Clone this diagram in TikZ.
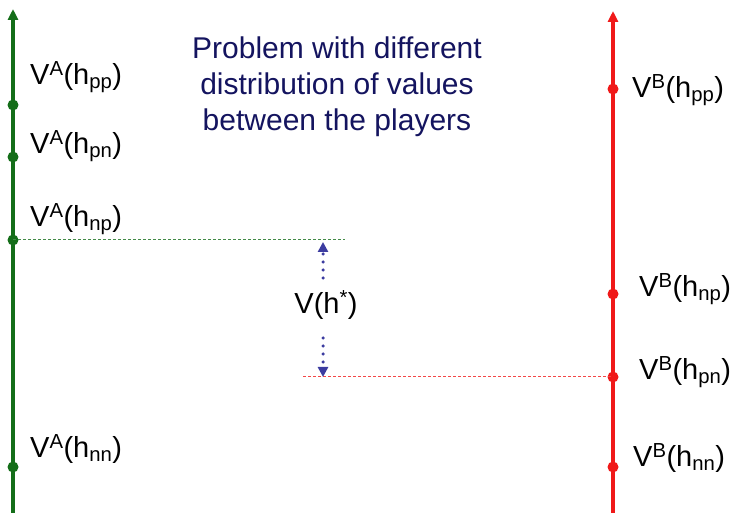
\documentclass[tikz,border=0pt]{standalone}
\usepackage{fontspec}
\setmainfont{Liberation Sans}
\usetikzlibrary{arrows.meta}
\definecolor{gA}{RGB}{20,110,25}
\definecolor{rB}{RGB}{240,25,25}
\definecolor{navy}{RGB}{20,20,95}
\definecolor{dotblue}{RGB}{60,60,160}
\newcommand{\lab}[3]{V\textsuperscript{#1}(h\textsubscript{#2})}
\begin{document}
\begin{tikzpicture}[x=1pt,y=-1pt,
  axisA/.style={draw=gA,line width=3.5pt,-{Triangle[length=11pt,width=10pt]}},
  axisB/.style={draw=rB,line width=3.5pt,-{Triangle[length=11pt,width=10pt]}},
  dotA/.style={circle,fill=gA,inner sep=0pt,minimum size=11pt},
  dotB/.style={circle,fill=rB,inner sep=0pt,minimum size=11pt},
  lbl/.style={font=\fontsize{29}{32}\selectfont,inner sep=0pt,anchor=west},
  gdash/.style={draw=gA!80,dash pattern=on 3pt off 2pt,line width=1pt},
  rdash/.style={draw=rB!80,dash pattern=on 3pt off 2pt,line width=1pt},
  vdot/.style={draw=dotblue,line width=3.5pt,dash pattern=on 0pt off 8pt,line cap=round,
    -{Triangle[length=10pt,width=10pt,line cap=butt]}}]
\useasboundingbox (0,0) rectangle (732,513);
% axes
\coordinate (A0) at (13,513);
\coordinate (A1) at (13,9);
\coordinate (B0) at (613,513);
\coordinate (B1) at (613,11);
\draw[axisA] (A0) -- (A1);
\draw[axisB] (B0) -- (B1);
% dots A
\node[dotA] (app) at (13,105) {};
\node[dotA] (apn) at (13,157) {};
\node[dotA] (anp) at (13,240) {};
\node[dotA] (ann) at (13,467) {};
% dots B
\node[dotB] (bpp) at (613,89) {};
\node[dotB] (bnp) at (613,294) {};
\node[dotB] (bnn) at (613,467) {};
\node[dotB] (bpn) at (613,377) {};
% labels A
\node[lbl] (lapp) at (30,77) {\lab{A}{pp}{}};
\node[lbl] (lapn) at (30,146) {\lab{A}{pn}{}};
\node[lbl] (lanp) at (30,219) {\lab{A}{np}{}};
\node[lbl] (lann) at (30,449) {\lab{A}{nn}{}};
% labels B
\node[lbl] (lbpp) at (632,90) {\lab{B}{pp}{}};
\node[lbl] (lbnp) at (639,289) {\lab{B}{np}{}};
\node[lbl] (lbpn) at (639,372) {\lab{B}{pn}{}};
\node[lbl] (lbnn) at (633,458) {\lab{B}{nn}{}};
% dashed
\coordinate (gEnd) at (345,240);
\coordinate (rStart) at (303,377);
\draw[gdash] (anp.center) -- (gEnd);
\draw[rdash] (rStart) -- (bpn.center);
% V(h*)
\node[font=\fontsize{29}{32}\selectfont,inner sep=0pt] (vh) at (326,305) {V(h\textsuperscript{*})};
\coordinate (u0) at (323,278);
\coordinate (u1) at (323,242);
\coordinate (d0) at (323,338);
\coordinate (d1) at (323,377);
\draw[vdot] (u0) -- (u1);
\draw[vdot] (d0) -- (d1);
% title
\node[text=navy,font=\fontsize{30}{36}\selectfont,align=center,inner sep=0pt] (title) at (337,87)
  {Problem with different\\distribution of values\\between the players};
\end{tikzpicture}
\end{document}
